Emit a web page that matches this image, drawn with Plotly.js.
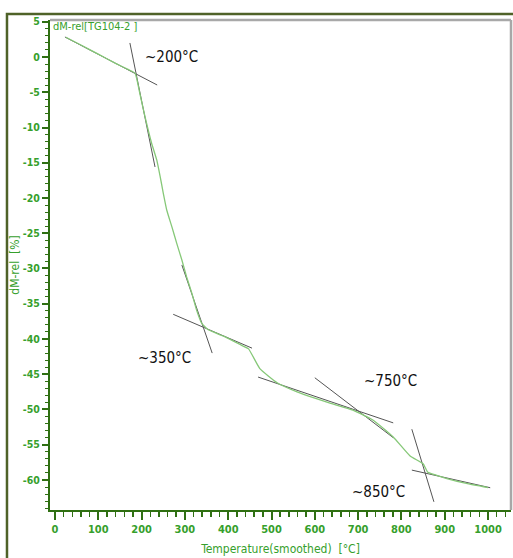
<!DOCTYPE html>
<html><head><meta charset="utf-8">
<script src="https://cdn.plot.ly/plotly-3.0.1.min.js"></script>
<style>html,body{margin:0;padding:0;background:#fff;}#chart{width:513px;height:558px;}</style>
</head><body><div id="chart"></div>
<script>
// Measured TG curve (temperature in °C, relative mass change in %)
const curveT = [25, 60, 100, 140, 170, 185, 196, 208, 223, 235, 243, 250, 258, 270, 281, 293, 304, 316, 327, 339, 354, 393, 431, 447, 473, 513, 559, 600, 635, 688, 734, 781, 820, 850, 861, 880, 905, 950, 1000];
const curveM = [2.8, 1.7, 0.4, -0.9, -1.8, -2.3, -5.2, -8.5, -12.2, -14.6, -17.0, -19.3, -21.7, -24.1, -26.4, -28.8, -31.2, -33.5, -35.9, -37.8, -38.7, -39.7, -40.9, -41.4, -44.2, -46.2, -47.5, -48.4, -49.1, -50.1, -51.5, -53.9, -56.6, -57.7, -58.9, -59.3, -59.8, -60.5, -61.1];

// Tangent construction lines (start/end points)
const tangentT = [[23, 236], [173, 231], [273, 455], [293, 363], [469, 781], [600, 781], [824, 875], [824, 1005]];
const tangentM = [[2.84, -3.97], [1.99, -15.6], [-36.5, -41.3], [-29.5, -42.0], [-45.4, -51.9], [-45.5, -54.0], [-52.8, -63.1], [-58.6, -61.1]];

// Onset labels
const labelText = ["~200°C", "~350°C", "~750°C", "~850°C"];
const labelT = [270, 254, 774, 748];
const labelM = [0, -42.7, -46, -61.7];

const xTicks = [0, 100, 200, 300, 400, 500, 600, 700, 800, 900, 1000];
const yTicks = [5, 0, -5, -10, -15, -20, -25, -30, -35, -40, -45, -50, -55, -60];

const narrow = '"DejaVu Sans Condensed", "Liberation Sans Narrow", "Arial Narrow", sans-serif';
const green = '#36a02c';
const axisGreen = '#2f6f12';

const traces = [];
tangentT.forEach((t, i) => {
  traces.push({x: t, y: tangentM[i], type: 'scatter', mode: 'lines',
    line: {color: '#555555', width: 1}, hoverinfo: 'skip', showlegend: false});
});
traces.push({x: curveT, y: curveM, type: 'scatter', mode: 'lines',
  line: {color: '#86c878', width: 1.3, shape: 'spline', smoothing: 0.4}, showlegend: false});

const annotations = labelText.map((s, i) => ({
  x: labelT[i], y: labelM[i], xref: 'x', yref: 'y', text: s, showarrow: false,
  font: {family: narrow, size: 15, color: '#111111'}
}));
annotations.push({x: 0.002, y: 0.987, xref: 'paper', yref: 'paper', xanchor: 'left', yanchor: 'middle',
  text: 'dM-rel[TG104-2 ]', showarrow: false, font: {family: narrow, size: 11, color: green}});

const layout = {
  width: 513, height: 558,
  margin: {l: 50, r: 2, t: 20, b: 48},
  paper_bgcolor: '#ffffff', plot_bgcolor: '#ffffff',
  showlegend: false,
  xaxis: {
    range: [-11.5, 1053], tickvals: xTicks, ticktext: xTicks.map(String),
    showgrid: false, zeroline: false, showline: true, linecolor: axisGreen, linewidth: 2,
    ticks: 'outside', ticklen: 8, tickwidth: 2, tickcolor: axisGreen,
    minor: {dtick: 20, ticks: 'outside', ticklen: 5, tickwidth: 1.5, tickcolor: axisGreen},
    tickfont: {family: narrow, size: 11, color: green, weight: 'bold'},
    title: {text: 'Temperature(smoothed)  [°C]', standoff: 9, font: {family: narrow, size: 12, color: green}},
    automargin: false
  },
  yaxis: {
    range: [-64.26, 5.25], tickvals: yTicks, ticktext: yTicks.map(String),
    showgrid: false, zeroline: false, showline: true, linecolor: axisGreen, linewidth: 2,
    ticks: 'outside', ticklen: 6, tickwidth: 2, tickcolor: axisGreen,
    minor: {dtick: 1, ticks: 'outside', ticklen: 3, tickwidth: 1, tickcolor: axisGreen},
    tickfont: {family: narrow, size: 10.5, color: green, weight: 'bold'},
    title: {text: 'dM-rel  [%]', standoff: 1, font: {family: narrow, size: 12, color: green}},
    automargin: false
  },
  annotations: annotations,
  shapes: [
    {type: 'line', xref: 'paper', yref: 'paper', x0: 0, x1: 1, y0: 1, y1: 1, line: {color: '#a8a8a8', width: 2.5}},
    {type: 'line', xref: 'paper', yref: 'paper', x0: 1, x1: 1, y0: 0, y1: 1, line: {color: '#a8a8a8', width: 2.5}},
    {type: 'rect', xref: 'paper', yref: 'paper', x0: -0.0933, x1: 1.2, y0: -0.2, y1: 1.0122, line: {color: '#4f6228', width: 2.5}}
  ]
};

Plotly.newPlot('chart', traces, layout, {displayModeBar: false, staticPlot: true});
</script>
</body></html>
